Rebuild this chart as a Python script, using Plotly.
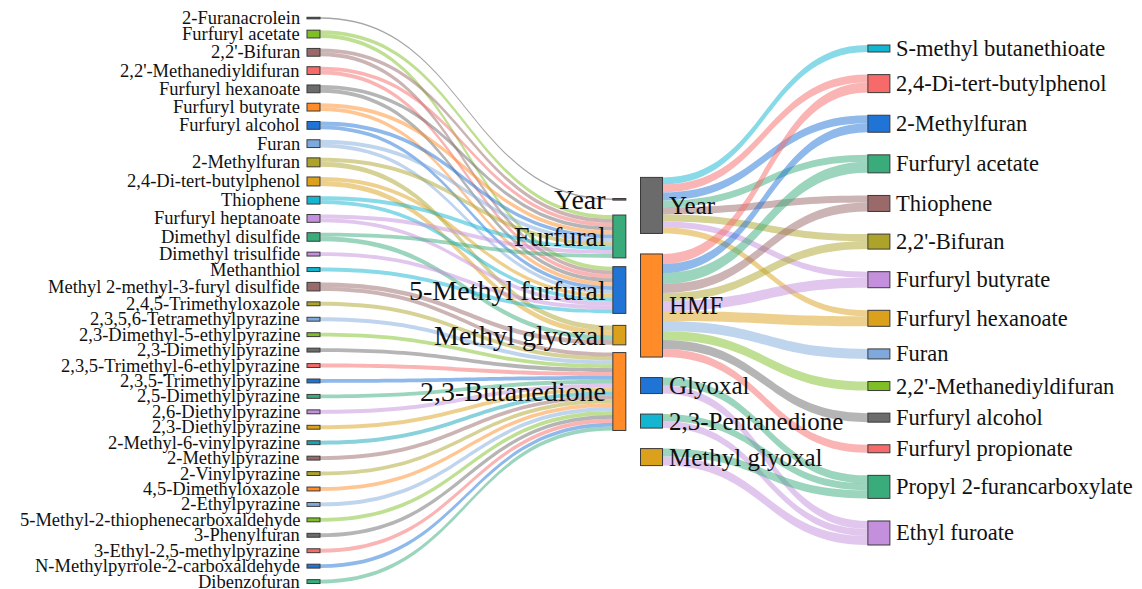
import plotly.graph_objects as go

FIG_W, FIG_H = 1142, 589
PAGE_OFFSET = 8  # default page margin around the plot div

# ---------------- left diagram data ----------------
left_compounds = [
    "2-Furanacrolein", "Furfuryl acetate", "2,2'-Bifuran", "2,2'-Methanediyldifuran",
    "Furfuryl hexanoate", "Furfuryl butyrate", "Furfuryl alcohol", "Furan", "2-Methylfuran",
    "2,4-Di-tert-butylphenol", "Thiophene", "Furfuryl heptanoate", "Dimethyl disulfide",
    "Dimethyl trisulfide", "Methanthiol", "Methyl 2-methyl-3-furyl disulfide",
    "2,4,5-Trimethyloxazole", "2,3,5,6-Tetramethylpyrazine", "2,3-Dimethyl-5-ethylpyrazine",
    "2,3-Dimethylpyrazine", "2,3,5-Trimethyl-6-ethylpyrazine", "2,3,5-Trimethylpyrazine",
    "2,5-Dimethylpyrazine", "2,6-Diethylpyrazine", "2,3-Diethylpyrazine",
    "2-Methyl-6-vinylpyrazine", "2-Methylpyrazine", "2-Vinylpyrazine", "4,5-Dimethyloxazole",
    "2-Ethylpyrazine", "5-Methyl-2-thiophenecarboxaldehyde", "3-Phenylfuran",
    "3-Ethyl-2,5-methylpyrazine", "N-Methylpyrrole-2-carboxaldehyde", "Dibenzofuran",
]
left_compound_colors = [
    "#4d4d4d", "#7fbf26", "#9a6a6a", "#f66a6a", "#6b6b6b", "#ff8c28", "#1f74d6", "#7fa9dc",
    "#ada32b", "#dba11c", "#13b5d1", "#c48fdc", "#3aac7b", "#c48fdc", "#13b5d1", "#9a6a6a",
    "#ada32b", "#7fa9dc", "#7fbf26", "#6b6b6b", "#f66a6a", "#1f74d6", "#3aac7b", "#c48fdc",
    "#dba11c", "#13a5b8", "#9a6a6a", "#ada32b", "#ff8c28", "#7fa9dc", "#7fbf26", "#6b6b6b",
    "#f66a6a", "#1f74d6", "#3aac7b",
]
left_hubs = ["Year", "Furfural", "5-Methyl furfural", "Methyl glyoxal", "2,3-Butanedione"]
left_hub_colors = ["#b0504a", "#3aac7b", "#1f74d6", "#dba11c", "#ff8c28"]

left_src = [
    "2-Furanacrolein",
    "Furfuryl acetate", "Furfuryl acetate",
    "2,2'-Bifuran", "2,2'-Bifuran",
    "2,2'-Methanediyldifuran", "2,2'-Methanediyldifuran",
    "Furfuryl hexanoate", "Furfuryl hexanoate",
    "Furfuryl butyrate", "Furfuryl butyrate",
    "Furfuryl alcohol", "Furfuryl alcohol",
    "Furan", "Furan",
    "2-Methylfuran", "2-Methylfuran",
    "2,4-Di-tert-butylphenol", "2,4-Di-tert-butylphenol",
    "Thiophene", "Thiophene",
    "Furfuryl heptanoate", "Furfuryl heptanoate",
    "Dimethyl disulfide", "Dimethyl disulfide",
    "Dimethyl trisulfide",
    "Methanthiol",
    "Methyl 2-methyl-3-furyl disulfide", "Methyl 2-methyl-3-furyl disulfide",
    "2,4,5-Trimethyloxazole", "2,3,5,6-Tetramethylpyrazine", "2,3-Dimethyl-5-ethylpyrazine",
    "2,3-Dimethylpyrazine", "2,3,5-Trimethyl-6-ethylpyrazine", "2,3,5-Trimethylpyrazine",
    "2,5-Dimethylpyrazine", "2,6-Diethylpyrazine", "2,3-Diethylpyrazine",
    "2-Methyl-6-vinylpyrazine", "2-Methylpyrazine", "2-Vinylpyrazine", "4,5-Dimethyloxazole",
    "2-Ethylpyrazine", "5-Methyl-2-thiophenecarboxaldehyde", "3-Phenylfuran",
    "3-Ethyl-2,5-methylpyrazine", "N-Methylpyrrole-2-carboxaldehyde", "Dibenzofuran",
]
left_tgt = [
    "Year",
    "Furfural", "5-Methyl furfural",
    "Furfural", "5-Methyl furfural",
    "Furfural", "5-Methyl furfural",
    "Furfural", "5-Methyl furfural",
    "Furfural", "5-Methyl furfural",
    "Furfural", "5-Methyl furfural",
    "Furfural", "5-Methyl furfural",
    "Furfural", "Methyl glyoxal",
    "5-Methyl furfural", "Methyl glyoxal",
    "Furfural", "5-Methyl furfural",
    "Furfural", "5-Methyl furfural",
    "Furfural", "Methyl glyoxal",
    "5-Methyl furfural",
    "5-Methyl furfural",
    "Methyl glyoxal", "2,3-Butanedione",
    "2,3-Butanedione", "2,3-Butanedione", "2,3-Butanedione", "2,3-Butanedione",
    "2,3-Butanedione", "2,3-Butanedione", "2,3-Butanedione", "2,3-Butanedione",
    "2,3-Butanedione", "2,3-Butanedione", "2,3-Butanedione", "2,3-Butanedione",
    "2,3-Butanedione", "2,3-Butanedione", "2,3-Butanedione", "2,3-Butanedione",
    "2,3-Butanedione", "2,3-Butanedione", "2,3-Butanedione",
]
left_val = [
    0.4,
    1, 1, 1, 1, 1, 1, 1, 1, 1, 1, 1, 1, 1, 1,
    1, 1.3, 1, 1.3, 1, 1, 1, 1, 1, 1.2,
    1, 1,
    1.2, 1,
    1, 1, 1, 1, 1, 1, 1, 1, 1, 1, 1, 1, 1, 1, 1, 1, 1, 1, 1,
]

# ---------------- right diagram data ----------------
right_hubs = ["Year", "HMF", "Glyoxal", "2,3-Pentanedione", "Methyl glyoxal"]
right_hub_colors = ["#6b6b6b", "#ff8c28", "#1f74d6", "#13b5d1", "#dba11c"]
right_compounds = [
    "S-methyl butanethioate", "2,4-Di-tert-butylphenol", "2-Methylfuran", "Furfuryl acetate",
    "Thiophene", "2,2'-Bifuran", "Furfuryl butyrate", "Furfuryl hexanoate", "Furan",
    "2,2'-Methanediyldifuran", "Furfuryl alcohol", "Furfuryl propionate",
    "Propyl 2-furancarboxylate", "Ethyl furoate",
]
right_compound_colors = [
    "#13b5d1", "#f66a6a", "#1f74d6", "#3aac7b", "#9a6a6a", "#ada32b", "#c48fdc", "#dba11c",
    "#7fa9dc", "#7fbf26", "#6b6b6b", "#f66a6a", "#3aac7b", "#c48fdc",
]
right_src = [
    "Year", "Year", "Year", "Year", "Year", "Year", "Year", "Year",
    "HMF", "HMF", "HMF", "HMF", "HMF", "HMF", "HMF", "HMF", "HMF", "HMF", "HMF",
    "Glyoxal", "Glyoxal", "2,3-Pentanedione", "2,3-Pentanedione",
    "Methyl glyoxal", "Methyl glyoxal",
]
right_tgt = [
    "S-methyl butanethioate", "2,4-Di-tert-butylphenol", "2-Methylfuran", "Furfuryl acetate",
    "Thiophene", "2,2'-Bifuran", "Furfuryl butyrate", "Furfuryl hexanoate",
    "2,4-Di-tert-butylphenol", "2-Methylfuran", "Furfuryl acetate", "Thiophene",
    "2,2'-Bifuran", "Furfuryl butyrate", "Furfuryl hexanoate", "Furan",
    "2,2'-Methanediyldifuran", "Furfuryl alcohol", "Furfuryl propionate",
    "Propyl 2-furancarboxylate", "Ethyl furoate", "Propyl 2-furancarboxylate", "Ethyl furoate",
    "Propyl 2-furancarboxylate", "Ethyl furoate",
]
right_val = [7, 8, 8, 7, 7, 7, 6, 6,
             10, 9, 11, 9, 8, 10, 10, 10, 9, 9, 8,
             8, 8, 7, 7, 8, 9]

# ---------------- layout / style settings (page pixels) ----------------
FONT = "Liberation Serif"
LEFT = dict(x0=300, x1=633, top=17.5, bottom=583, pad=12.6, thick=13,
            col_x=(0.0405, 0.959), hub_gap=21, hub_center=0.516,
            alpha=0.5, comp_font=18.5, hub_font=28, label_gap=5)
RIGHT = dict(x0=635, x1=895, top=45, bottom=545, pad=22.6, thick=22,
             col_x=(0.0635, 0.938), hub_gap=20.5, hub_center=0.553,
             alpha=0.5, comp_font=22.5, hub_font=25, label_gap=5)


def rgba(h, a):
    h = h.lstrip("#")
    return "rgba(%d,%d,%d,%.2f)" % (int(h[0:2], 16), int(h[2:4], 16), int(h[4:6], 16), a)


def stack_centers(values, ky, gap, start):
    centers, y = [], start
    for v in values:
        h = v * ky
        centers.append(y + h / 2)
        y += h + gap
    return centers


def fx(px):
    return (px - PAGE_OFFSET) / FIG_W


def fy(py):
    return 1 - (py - PAGE_OFFSET) / FIG_H


fig = go.Figure()
annotations = []


def build(cfg, first_names, first_colors, second_names, second_colors,
          src, tgt, val, hubs_are_first, link_color_from, label_side):
    H = cfg["bottom"] - cfg["top"]
    Wd = cfg["x1"] - cfg["x0"]
    names = first_names + second_names
    s_idx = [first_names.index(s) for s in src]
    t_idx = [len(first_names) + second_names.index(t) for t in tgt]
    first_vals = [sum(v for s, v in zip(src, val) if s == n) for n in first_names]
    second_vals = [sum(v for t, v in zip(tgt, val) if t == n) for n in second_names]
    comp_vals = second_vals if hubs_are_first else first_vals
    hub_vals = first_vals if hubs_are_first else second_vals
    total = sum(val)
    ky = (H - (len(comp_vals) - 1) * cfg["pad"]) / total
    comp_c = stack_centers(comp_vals, ky, cfg["pad"], 0)
    hub_total = sum(hub_vals) * ky + (len(hub_vals) - 1) * cfg["hub_gap"]
    hub_c = stack_centers(hub_vals, ky, cfg["hub_gap"], cfg["hub_center"] * H - hub_total / 2)
    if hubs_are_first:
        first_c, second_c = hub_c, comp_c
    else:
        first_c, second_c = comp_c, hub_c
    xs = [cfg["col_x"][0]] * len(first_names) + [cfg["col_x"][1]] * len(second_names)
    ys = [c / H for c in first_c + second_c]
    colors = first_colors + second_colors
    pick = s_idx if link_color_from == "source" else t_idx
    lcol = [rgba(colors[i], cfg["alpha"]) for i in pick]
    fig.add_trace(go.Sankey(
        arrangement="fixed",
        domain=dict(x=[fx(cfg["x0"]), fx(cfg["x1"])],
                    y=[fy(cfg["bottom"]), fy(cfg["top"])]),
        node=dict(label=[""] * len(names), color=colors, x=xs, y=ys,
                  pad=cfg["pad"], thickness=cfg["thick"],
                  line=dict(color="#3a3a3a", width=1), hoverinfo="none"),
        link=dict(source=s_idx, target=t_idx, value=val, color=lcol, hoverinfo="none"),
    ))
    for col, (nm_list, cen_list) in enumerate([(first_names, first_c), (second_names, second_c)]):
        is_hub = (col == 0) == hubs_are_first
        size = cfg["hub_font"] if is_hub else cfg["comp_font"]
        xpx = cfg["x0"] + cfg["col_x"][col] * Wd
        for n, c in zip(nm_list, cen_list):
            ypx = cfg["top"] + c
            if label_side == "left":
                xa, shift = "right", -(cfg["thick"] / 2 + cfg["label_gap"])
            else:
                xa, shift = "left", cfg["thick"] / 2 + cfg["label_gap"] - 1
            annotations.append(dict(
                x=fx(xpx), y=fy(ypx), xref="paper", yref="paper",
                text=n, showarrow=False, xanchor=xa, yanchor="middle", xshift=shift,
                font=dict(family=FONT, size=size, color="#111111")))


build(LEFT, left_compounds, left_compound_colors, left_hubs, left_hub_colors,
      left_src, left_tgt, left_val, hubs_are_first=False,
      link_color_from="source", label_side="left")
build(RIGHT, right_hubs, right_hub_colors, right_compounds, right_compound_colors,
      right_src, right_tgt, right_val, hubs_are_first=True,
      link_color_from="target", label_side="right")

fig.update_layout(
    width=FIG_W, height=FIG_H,
    margin=dict(l=0, r=0, t=0, b=0),
    paper_bgcolor="white", plot_bgcolor="white",
    font=dict(family=FONT),
    annotations=annotations,
    showlegend=False,
)
fig.write_html("out.html")
